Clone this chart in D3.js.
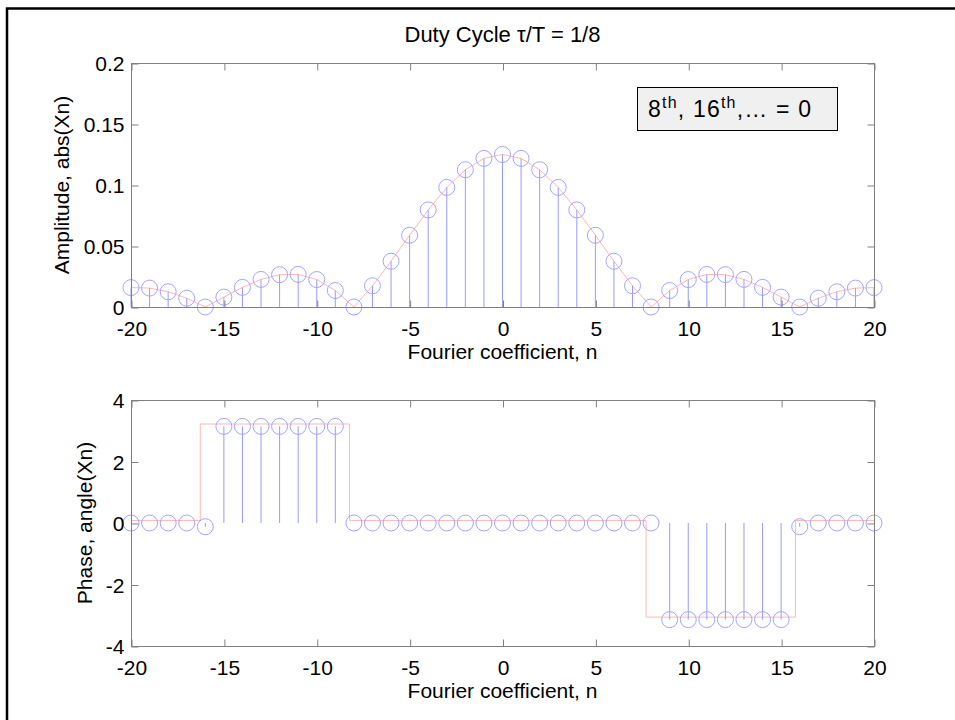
<!DOCTYPE html>
<html>
<head>
<meta charset="utf-8">
<title>Duty Cycle</title>
<script src="https://cdn.jsdelivr.net/npm/d3@7"></script>
<style>
    body { margin: 0; background: #fff; }
    svg { display: block; }
    text { font-family: "Liberation Sans", Arial, Helvetica, sans-serif; fill: #000; }
</style>
</head>
<body>
<div id="chart"></div>
<script>
// Fourier coefficient index
const nValues = [-20, -19, -18, -17, -16, -15, -14, -13, -12, -11, -10, -9, -8, -7, -6, -5, -4, -3, -2, -1, 0,
                 1, 2, 3, 4, 5, 6, 7, 8, 9, 10, 11, 12, 13, 14, 15, 16, 17, 18, 19, 20];

// abs(Xn)
const amplitude = [0.0159, 0.0155, 0.0125, 0.0072, 0, 0.0081, 0.0161, 0.0226, 0.0265, 0.0267, 0.0225, 0.0135, 0,
                   0.0174, 0.0375, 0.0588, 0.0796, 0.0980, 0.1125, 0.1218, 0.1250,
                   0.1218, 0.1125, 0.0980, 0.0796, 0.0588, 0.0375, 0.0174, 0,
                   0.0135, 0.0225, 0.0267, 0.0265, 0.0226, 0.0161, 0.0081, 0, 0.0072, 0.0125, 0.0155, 0.0159];

// angle(Xn)
const phase = [0, 0, 0, 0, -0.12, 3.1416, 3.1416, 3.1416, 3.1416, 3.1416, 3.1416, 3.1416,
               0, 0, 0, 0, 0, 0, 0, 0, 0, 0, 0, 0, 0, 0, 0, 0, 0,
               -3.1416, -3.1416, -3.1416, -3.1416, -3.1416, -3.1416, -3.1416, -0.12, 0, 0, 0, 0];

// continuous phase curve (red), breakpoints
const phaseLineN = [-20, -16.27, -16.27, -8.24, -8.24, 7.73, 7.73, 15.77, 15.77, 20];
const phaseLineVal = [0.08, 0.08, 3.22, 3.22, 0.08, 0.08, -3.06, -3.06, 0.08, 0.08];

// axis ticks
const xTicks = [-20, -15, -10, -5, 0, 5, 10, 15, 20];
const ampTicks = [0, 0.05, 0.1, 0.15, 0.2];
const phaseTicks = [-4, -2, 0, 2, 4];

const width = 955, height = 720;
const stemColor = '#9a9aff';
const markerColor = '#a4a4ff';
const curveColor = '#ffb8b8';
const axisColor = '#808080';
const fontSize = 21;

const svg = d3.select('#chart').append('svg')
    .attr('width', width)
    .attr('height', height);

svg.append('rect')
    .attr('width', width)
    .attr('height', height)
    .attr('fill', '#fff');

// figure frame
svg.append('rect')
    .attr('x', 7)
    .attr('y', 8.5)
    .attr('width', 1200)
    .attr('height', 1200)
    .attr('fill', 'none')
    .attr('stroke', '#000')
    .attr('stroke-width', 2.5);

const left = 131, right = 874;

function drawPanel(opts) {
    const x = d3.scaleLinear().domain([-20, 20]).range([left, right]);
    const y = d3.scaleLinear().domain(opts.yDomain).range([opts.bottom, opts.top]);
    const g = svg.append('g');

    // red curve
    const line = d3.line()
        .x(d => x(d[0]))
        .y(d => y(d[1]));
    g.append('path')
        .datum(opts.curveN.map((n, i) => [n, opts.curveVal[i]]))
        .attr('d', line)
        .attr('fill', 'none')
        .attr('stroke', curveColor)
        .attr('stroke-width', 1);

    const pts = nValues.map((n, i) => ({n: n, v: opts.values[i]}));

    // stems
    g.selectAll('line.stem')
        .data(pts)
        .enter()
        .append('line')
        .attr('class', 'stem')
        .attr('x1', d => x(d.n))
        .attr('x2', d => x(d.n))
        .attr('y1', y(0))
        .attr('y2', d => y(d.v))
        .attr('stroke', stemColor)
        .attr('stroke-width', 1);

    // markers
    g.selectAll('circle.marker')
        .data(pts)
        .enter()
        .append('circle')
        .attr('class', 'marker')
        .attr('cx', d => x(d.n))
        .attr('cy', d => y(d.v))
        .attr('r', 8)
        .attr('fill', 'none')
        .attr('stroke', markerColor)
        .attr('stroke-width', 1);

    // box
    g.append('rect')
        .attr('x', left + 0.5)
        .attr('y', opts.top + 0.5)
        .attr('width', right - left)
        .attr('height', opts.bottom - opts.top)
        .attr('fill', 'none')
        .attr('stroke', axisColor)
        .attr('stroke-width', 1);

    // X axis (bottom, labelled)
    const xb = g.append('g')
        .attr('transform', `translate(0.5,${opts.bottom + 0.5})`)
        .call(d3.axisBottom(x).tickValues(xTicks).tickSize(-7).tickFormat(d => String(d)));
    xb.selectAll('text').attr('y', 28).attr('dy', null);

    // X axis (top, ticks only)
    g.append('g')
        .attr('transform', `translate(0.5,${opts.top + 0.5})`)
        .call(d3.axisTop(x).tickValues(xTicks).tickSize(-7).tickFormat(''));

    // Y axis (left, labelled)
    const yl = g.append('g')
        .attr('transform', `translate(${left + 0.5},0.5)`)
        .call(d3.axisLeft(y).tickValues(opts.yTicks).tickSize(-7).tickFormat(d => String(d)));
    yl.selectAll('text').attr('x', -7).attr('dy', '0.35em');

    // Y axis (right, ticks only)
    g.append('g')
        .attr('transform', `translate(${right + 0.5},0.5)`)
        .call(d3.axisRight(y).tickValues(opts.yTicks).tickSize(-7).tickFormat(''));

    g.selectAll('.domain').remove();
    g.selectAll('.tick line').attr('stroke', axisColor);
    g.selectAll('.tick text')
        .attr('fill', '#000')
        .style('font-size', fontSize + 'px')
        .style('font-family', '"Liberation Sans", Arial, Helvetica, sans-serif');

    // axis labels
    g.append('text')
        .attr('x', (left + right) / 2)
        .attr('y', opts.bottom + 52)
        .attr('text-anchor', 'middle')
        .style('font-size', fontSize + 'px')
        .text('Fourier coefficient, n');

    g.append('text')
        .attr('transform', `translate(${opts.yLabelX},${(opts.top + opts.bottom) / 2}) rotate(-90)`)
        .attr('text-anchor', 'middle')
        .style('font-size', fontSize + 'px')
        .text(opts.yLabel);

    return {x: x, y: y, g: g};
}

// Amplitude panel
drawPanel({
    top: 63,
    bottom: 307,
    yDomain: [0, 0.2],
    yTicks: ampTicks,
    values: amplitude,
    curveN: nValues,
    curveVal: amplitude,
    yLabel: 'Amplitude, abs(Xn)',
    yLabelX: 69
});

// Phase panel
drawPanel({
    top: 400,
    bottom: 646,
    yDomain: [-4, 4],
    yTicks: phaseTicks,
    values: phase,
    curveN: phaseLineN,
    curveVal: phaseLineVal,
    yLabel: 'Phase, angle(Xn)',
    yLabelX: 92
});

// Title
svg.append('text')
    .attr('x', (left + right) / 2)
    .attr('y', 42)
    .attr('text-anchor', 'middle')
    .style('font-size', '22px')
    .text('Duty Cycle \u03C4/T = 1/8');

// Annotation box
svg.append('rect')
    .attr('x', 637.5)
    .attr('y', 87.5)
    .attr('width', 200)
    .attr('height', 43)
    .attr('fill', '#f0f0f0')
    .attr('stroke', '#000')
    .attr('stroke-width', 1);

const note = svg.append('text')
    .attr('x', 648)
    .attr('y', 117)
    .style('font-size', '23px')
    .style('letter-spacing', '1.2px');
note.append('tspan').text('8');
note.append('tspan').attr('dy', -9).style('font-size', '16px').text('th');
note.append('tspan').attr('dy', 9).text(', 16');
note.append('tspan').attr('dy', -9).style('font-size', '16px').text('th');
note.append('tspan').attr('dy', 9).text(',\u2026 = 0');
</script>
</body>
</html>
